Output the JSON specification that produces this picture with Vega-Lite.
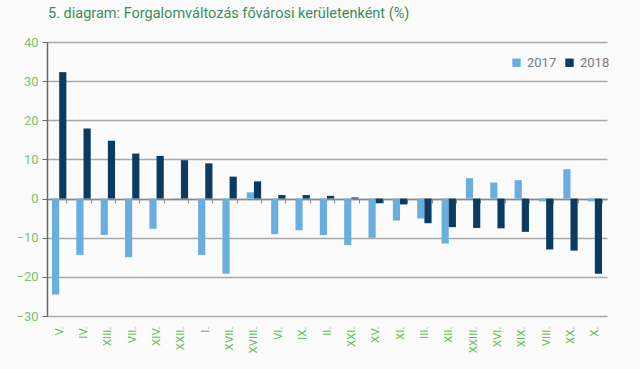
{
  "$schema": "https://vega.github.io/schema/vega-lite/v6.json",
  "width": 560,
  "height": 274,
  "autosize": {"type": "none"},
  "padding": {"left": 47, "top": 42, "right": 33, "bottom": 53},
  "background": "#fbfbfb",
  "title": {
    "text": "5. diagram: Forgalomváltozás fővárosi kerületenként (%)",
    "anchor": "start",
    "frame": "group",
    "offset": 15,
    "dx": 1,
    "font": "Roboto",
    "fontSize": 14.5,
    "fontWeight": "normal",
    "color": "#3c8c5c"
  },
  "data": {
    "values": [
      {"district": "V.", "year": "2017", "value": -24.5}, {"district": "V.", "year": "2018", "value": 32.3},
      {"district": "IV.", "year": "2017", "value": -14.4}, {"district": "IV.", "year": "2018", "value": 17.9},
      {"district": "XIII.", "year": "2017", "value": -9.3}, {"district": "XIII.", "year": "2018", "value": 14.8},
      {"district": "VII.", "year": "2017", "value": -15.0}, {"district": "VII.", "year": "2018", "value": 11.5},
      {"district": "XIV.", "year": "2017", "value": -7.7}, {"district": "XIV.", "year": "2018", "value": 10.9},
      {"district": "XXII.", "year": "2017", "value": -0.1}, {"district": "XXII.", "year": "2018", "value": 9.8},
      {"district": "I.", "year": "2017", "value": -14.4}, {"district": "I.", "year": "2018", "value": 9.0},
      {"district": "XVII.", "year": "2017", "value": -19.2}, {"district": "XVII.", "year": "2018", "value": 5.6},
      {"district": "XVIII.", "year": "2017", "value": 1.6}, {"district": "XVIII.", "year": "2018", "value": 4.4},
      {"district": "VI.", "year": "2017", "value": -9.1}, {"district": "VI.", "year": "2018", "value": 0.9},
      {"district": "IX.", "year": "2017", "value": -8.1}, {"district": "IX.", "year": "2018", "value": 0.9},
      {"district": "II.", "year": "2017", "value": -9.3}, {"district": "II.", "year": "2018", "value": 0.7},
      {"district": "XXI.", "year": "2017", "value": -11.9}, {"district": "XXI.", "year": "2018", "value": 0.3},
      {"district": "XV.", "year": "2017", "value": -10.0}, {"district": "XV.", "year": "2018", "value": -1.2},
      {"district": "XI.", "year": "2017", "value": -5.6}, {"district": "XI.", "year": "2018", "value": -1.5},
      {"district": "III.", "year": "2017", "value": -5.1}, {"district": "III.", "year": "2018", "value": -6.3},
      {"district": "XII.", "year": "2017", "value": -11.5}, {"district": "XII.", "year": "2018", "value": -7.3},
      {"district": "XXIII.", "year": "2017", "value": 5.2}, {"district": "XXIII.", "year": "2018", "value": -7.5},
      {"district": "XVI.", "year": "2017", "value": 4.1}, {"district": "XVI.", "year": "2018", "value": -7.6},
      {"district": "XIX.", "year": "2017", "value": 4.7}, {"district": "XIX.", "year": "2018", "value": -8.5},
      {"district": "VIII.", "year": "2017", "value": -0.7}, {"district": "VIII.", "year": "2018", "value": -13.0},
      {"district": "XX.", "year": "2017", "value": 7.5}, {"district": "XX.", "year": "2018", "value": -13.3},
      {"district": "X.", "year": "2017", "value": -0.7}, {"district": "X.", "year": "2018", "value": -19.2}
    ]
  },
  "mark": {"type": "bar"},
  "encoding": {
    "x": {
      "field": "district",
      "type": "nominal",
      "sort": null,
      "scale": {"paddingInner": 0.41, "paddingOuter": 0.205},
      "axis": {
        "title": null,
        "offset": -117,
        "labelAngle": 270,
        "labelPadding": 123,
        "labelFont": "Roboto",
        "labelFontSize": 11.5,
        "labelColor": "#6dbb5f",
        "domainColor": "#888888",
        "domainWidth": 1.5,
        "tickColor": "#888888",
        "tickSize": 4,
        "tickBand": "extent",
        "grid": false
      }
    },
    "xOffset": {"field": "year", "type": "nominal"},
    "y": {
      "field": "value",
      "type": "quantitative",
      "scale": {"domain": [-30, 40], "nice": false},
      "axis": {
        "title": null,
        "values": [-30, -20, -10, 0, 10, 20, 30, 40],
        "labelFont": "Roboto",
        "labelFontSize": 13,
        "labelColor": "#7cc36d",
        "labelPadding": 4,
        "domainColor": "#666666",
        "domainWidth": 1.5,
        "tickColor": "#666666",
        "tickSize": 5,
        "gridColor": "#a8a8a8",
        "gridWidth": 1.5
      }
    },
    "color": {
      "field": "year",
      "type": "nominal",
      "scale": {"domain": ["2017", "2018"], "range": ["#6aaee0", "#0b3a63"]},
      "legend": {
        "title": null,
        "orient": "none",
        "legendX": 463,
        "legendY": 14,
        "direction": "horizontal",
        "symbolType": "square",
        "symbolSize": 70,
        "symbolStrokeWidth": 0,
        "labelFont": "Roboto",
        "labelFontSize": 13,
        "labelColor": "#7a7a7a",
        "columnPadding": 6
      }
    }
  },
  "config": {"view": {"stroke": null}}
}
